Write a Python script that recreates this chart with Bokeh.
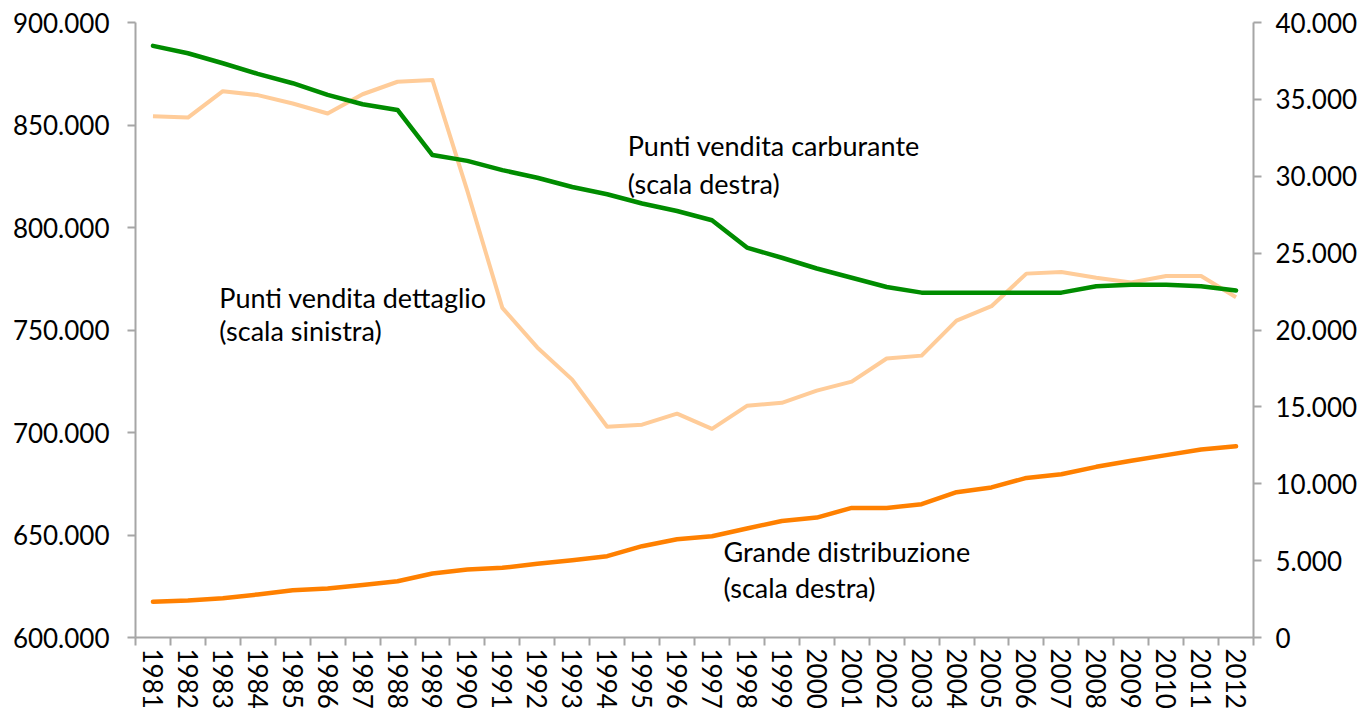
from bokeh.plotting import figure
from bokeh.models import LinearAxis, Range1d, FixedTicker, Label
from bokeh.embed import file_html
from bokeh.resources import INLINE

years = [1981, 1982, 1983, 1984, 1985, 1986, 1987, 1988, 1989, 1990,
         1991, 1992, 1993, 1994, 1995, 1996, 1997, 1998, 1999, 2000,
         2001, 2002, 2003, 2004, 2005, 2006, 2007, 2008, 2009, 2010,
         2011, 2012]

# Punti vendita dettaglio (scala sinistra)
retail = [854300, 853600, 866500, 864600, 860500, 855600, 865000, 871100,
          871900, 817700, 760800, 741500, 725800, 702800, 703800, 709200,
          701800, 713000, 714500, 720400, 724800, 736100, 737500, 754600,
          761600, 777500, 778300, 775500, 773200, 776300, 776300, 766000]

# Punti vendita carburante (scala destra)
fuel = [38480, 38000, 37350, 36660, 36050, 35290, 34680, 34310,
        31380, 31000, 30400, 29900, 29300, 28830, 28230, 27740,
        27140, 25360, 24700, 24000, 23400, 22800, 22430, 22430,
        22430, 22430, 22430, 22840, 22950, 22950, 22840, 22570]

# Grande distribuzione (scala destra)
gdo = [2320, 2410, 2560, 2800, 3080, 3190, 3420, 3660,
       4160, 4420, 4530, 4800, 5030, 5290, 5940, 6390,
       6590, 7090, 7580, 7800, 8430, 8430, 8670, 9450,
       9760, 10380, 10620, 11100, 11490, 11860, 12230, 12440]

left_ticks = [600000, 650000, 700000, 750000, 800000, 850000, 900000]
left_labels = ["600.000", "650.000", "700.000", "750.000", "800.000", "850.000", "900.000"]
right_ticks = [0, 5000, 10000, 15000, 20000, 25000, 30000, 35000, 40000]
right_labels = ["0", "5.000", "10.000", "15.000", "20.000", "25.000", "30.000", "35.000", "40.000"]

FONT = "Lato"
AXIS_GRAY = "#A6A6A6"

p = figure(width=1360, height=712, output_backend="svg", toolbar_location=None,
           x_range=Range1d(years[0] - 0.5, years[-1] + 0.5),
           y_range=Range1d(600000, 900000),
           min_border_left=135, min_border_right=105,
           min_border_top=22, min_border_bottom=75)
p.extra_y_ranges = {"right": Range1d(0, 40000)}
p.xgrid.visible = False
p.ygrid.visible = False
p.outline_line_color = None
p.background_fill_color = "white"
p.border_fill_color = "white"

p.line(years, retail, line_color="#FFCC99", line_width=4, line_join="round")
p.line(years, fuel, line_color="#008C00", line_width=4.5, line_join="round",
       line_cap="round", y_range_name="right")
p.line(years, gdo, line_color="#FF8000", line_width=4.5, line_join="round",
       line_cap="round", y_range_name="right")

# left axis
ya = p.yaxis[0]
ya.ticker = FixedTicker(ticks=left_ticks)
ya.major_label_overrides = {t: l for t, l in zip(left_ticks, left_labels)}
ya.axis_line_color = AXIS_GRAY
ya.axis_line_width = 2
ya.major_tick_line_color = AXIS_GRAY
ya.major_tick_line_width = 2
ya.major_tick_out = 8
ya.major_tick_in = 0
ya.minor_tick_line_color = None
ya.major_label_text_font = FONT
ya.major_label_text_font_size = "26px"
ya.major_label_text_color = "black"
ya.major_label_standoff = 18

# right axis
ra = LinearAxis(y_range_name="right", ticker=FixedTicker(ticks=right_ticks))
ra.major_label_overrides = {t: l for t, l in zip(right_ticks, right_labels)}
ra.axis_line_color = AXIS_GRAY
ra.axis_line_width = 2
ra.major_tick_line_color = AXIS_GRAY
ra.major_tick_line_width = 2
ra.major_tick_out = 8
ra.major_tick_in = 0
ra.minor_tick_line_color = None
ra.major_label_text_font = FONT
ra.major_label_text_font_size = "26px"
ra.major_label_text_color = "black"
ra.major_label_standoff = 14
p.add_layout(ra, "right")

# x axis: labels at years, ticks between years
xa = p.xaxis[0]
xa.ticker = FixedTicker(ticks=years,
                        minor_ticks=[y - 0.5 for y in years] + [years[-1] + 0.5])
xa.major_label_overrides = {y: str(y) for y in years}
xa.major_label_orientation = "vertical"
xa.axis_line_color = AXIS_GRAY
xa.axis_line_width = 2
xa.major_tick_line_color = None
xa.major_tick_out = 8
xa.major_tick_in = 0
xa.minor_tick_line_color = AXIS_GRAY
xa.minor_tick_line_width = 2
xa.minor_tick_out = 8
xa.minor_tick_in = 0
xa.major_label_text_font = FONT
xa.major_label_text_font_size = "26px"
xa.major_label_text_color = "black"
xa.major_label_standoff = 3

def add_label(x, y, text, rng="default"):
    kw = dict(x=x, y=y, text=text, text_font=FONT, text_font_size="27px",
              text_color="black", text_baseline="alphabetic", text_align="left")
    if rng != "default":
        kw["y_range_name"] = rng
    p.add_layout(Label(**kw))

add_label(1994.59, 32020, "Punti vendita carburante", "right")
add_label(1994.59, 29545, "(scala destra)", "right")
add_label(1982.9, 766000, "Punti vendita dettaglio")
add_label(1982.9, 749900, "(scala sinistra)")
add_label(1997.33, 5615, "Grande distribuzione", "right")
add_label(1997.33, 3270, "(scala destra)", "right")

open("out.html", "w").write(file_html(p, INLINE))
